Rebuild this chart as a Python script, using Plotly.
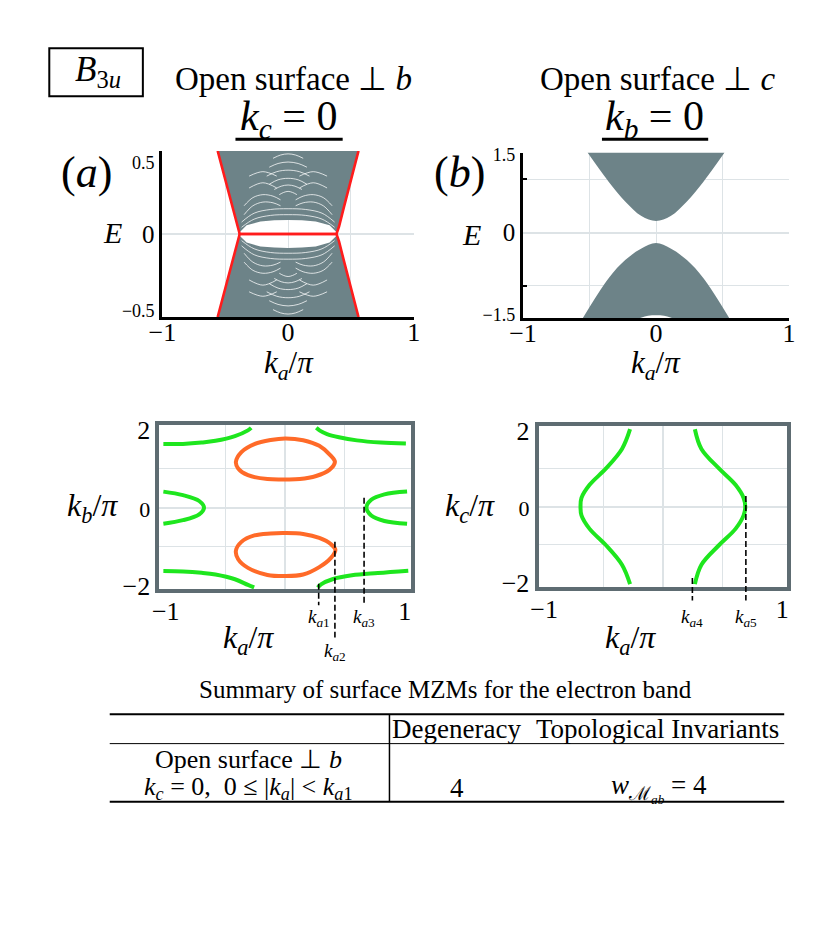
import plotly.graph_objects as go
from plotly.subplots import make_subplots

W, H = 830, 925
FONT = "Liberation Serif"
GRAY = "#6d8388"
RED = "#ff1c1c"
GREEN = "#1ee61e"
ORANGE = "#ff6a28"
FRAME = "#5e6c72"
GRID = "#dde3e6"

# ---------------- (a) open surface perp b, k_c = 0 ----------------
# outline of the bulk continuum, upper half (lower half is its mirror)
A_BULK_K = [-0.56, -0.495, -0.443, -0.405, -0.385, -0.33, -0.22, -0.11, 0.0,
            0.11, 0.22, 0.33, 0.385, 0.405, 0.443, 0.495, 0.56]
A_BULK_E = [0.56, 0.353, 0.178, 0.05, 0.012, 0.058, 0.084, 0.092, 0.094,
            0.092, 0.084, 0.058, 0.012, 0.05, 0.178, 0.353, 0.56]
# surface MZM branch (red)
A_EDGE_K = [-0.56, -0.495, -0.443, -0.405, -0.385, 0.385, 0.405, 0.443, 0.495, 0.56]
A_EDGE_E = [0.56, 0.353, 0.178, 0.05, 0.0, 0.0, 0.05, 0.178, 0.353, 0.56]
# gaps between the bulk subbands (white streaks), upper half
A_ARCH_K = [[-0.12, -0.06, 0, 0.06, 0.12], [-0.15, -0.08, 0, 0.08, 0.15],
            [-0.17, -0.09, 0, 0.09, 0.17], [-0.15, -0.08, 0, 0.08, 0.15],
            [-0.11, -0.055, 0, 0.055, 0.11], [-0.07, -0.035, 0, 0.035, 0.07]]
A_ARCH_E = [[0.51, 0.532, 0.54, 0.532, 0.51], [0.45, 0.475, 0.485, 0.475, 0.45],
            [0.39, 0.42, 0.43, 0.42, 0.39], [0.335, 0.365, 0.375, 0.365, 0.335],
            [0.30, 0.322, 0.33, 0.322, 0.30], [0.265, 0.28, 0.287, 0.28, 0.265]]
A_LONG_K = [-0.37, -0.27, -0.14, 0.0, 0.14, 0.27, 0.37]
A_LONG_E = [[0.045, 0.10, 0.125, 0.13, 0.125, 0.10, 0.045],
            [0.08, 0.14, 0.165, 0.17, 0.165, 0.14, 0.08]]
A_SIDE_K = [-0.35, -0.28, -0.2, -0.12, -0.06]
A_SIDE_E = [[0.13, 0.19, 0.215, 0.21, 0.19],
            [0.19, 0.245, 0.265, 0.255, 0.23]]
A_HUMP_K = [-0.31, -0.2, -0.09]
A_HUMP_E = [[0.31, 0.345, 0.31], [0.39, 0.42, 0.39]]

# ---------------- (b) open surface perp c, k_b = 0 ----------------
B_UP_K = [-0.515, -0.355, -0.232, -0.11, 0.0, 0.11, 0.232, 0.355, 0.515]
B_UP_E = [1.5, 0.95, 0.584, 0.31, 0.218, 0.31, 0.584, 0.95, 1.5]
B_LO_K = [-0.55, -0.355, -0.232, -0.11, 0.0, 0.11, 0.232, 0.355, 0.55]
B_LO_E = [-1.6, -0.85, -0.515, -0.30, -0.196, -0.30, -0.515, -0.85, -1.6]
B_NOTCH_K = [-0.12, -0.06, 0.0, 0.06, 0.12]
B_NOTCH_E = [-1.6, -1.56, -1.55, -1.56, -1.6]

# ---------------- (c) Fermi surface, k_a - k_b ----------------
C_ORANGE_UP_K = [-0.413, -0.367, -0.258, -0.122, 0.0, 0.15, 0.285, 0.381, 0.416,
                 0.367, 0.259, 0.122, 0.0, -0.149, -0.312, -0.394, -0.413]
C_ORANGE_UP_B = [1.17, 1.42, 1.625, 1.73, 1.77, 1.725, 1.58, 1.33, 1.17,
                 0.96, 0.81, 0.73, 0.72, 0.73, 0.83, 1.0, 1.17]
C_ORANGE_LO_K = [-0.413, -0.367, -0.258, -0.122, 0.0, 0.15, 0.285, 0.381, 0.42,
                 0.381, 0.285, 0.15, 0.0, -0.149, -0.312, -0.394, -0.413]
C_ORANGE_LO_B = [-1.10, -0.875, -0.71, -0.66, -0.65, -0.675, -0.775, -0.93, -1.08,
                 -1.29, -1.52, -1.71, -1.75, -1.72, -1.54, -1.32, -1.10]
C_GREEN_TL_K = [-1.02, -0.856, -0.70, -0.584, -0.421, -0.312, -0.285]
C_GREEN_TL_B = [1.625, 1.63, 1.665, 1.71, 1.83, 1.975, 2.04]
C_GREEN_TR_K = [0.26, 0.29, 0.35, 0.45, 0.6, 0.8, 1.01]
C_GREEN_TR_B = [2.04, 1.97, 1.88, 1.80, 1.72, 1.665, 1.64]
C_GREEN_ML_K = [-1.02, -0.856, -0.72, -0.68, -0.72, -0.856, -1.02]
C_GREEN_ML_B = [0.41, 0.32, 0.17, 0.0, -0.17, -0.32, -0.41]
C_GREEN_MR_K = [1.02, 0.83, 0.72, 0.68, 0.72, 0.83, 1.02]
C_GREEN_MR_B = [0.41, 0.34, 0.20, 0.0, -0.20, -0.34, -0.41]
C_GREEN_BL_K = [-1.02, -0.856, -0.70, -0.584, -0.421, -0.312, -0.26]
C_GREEN_BL_B = [-1.62, -1.63, -1.665, -1.71, -1.83, -1.975, -2.04]
C_GREEN_BR_K = [0.272, 0.30, 0.395, 0.558, 0.775, 1.03]
C_GREEN_BR_B = [-2.04, -1.96, -1.83, -1.73, -1.67, -1.61]
C_KA_MARKS = [0.28, 0.416, 0.66]
C_KA_LABELS = ["a1", "a2", "a3"]

# ---------------- (d) Fermi surface, k_a - k_c ----------------
D_GREEN_L_K = [-0.278, -0.346, -0.482, -0.618, -0.686, -0.694, -0.686, -0.618,
               -0.482, -0.346, -0.278]
D_GREEN_R_K = [0.266, 0.321, 0.47, 0.607, 0.675, 0.689, 0.675, 0.607, 0.47,
               0.321, 0.266]
D_GREEN_C = [2.04, 1.52, 1.0, 0.575, 0.23, 0.0, -0.23, -0.585, -1.01, -1.53, -2.04]
D_KA_MARKS = [0.245, 0.694]
D_KA_LABELS = ["a4", "a5"]

OFF = 8  # the page puts the plot 8 px in from the window corner


def X(px):
    return (px - OFF) / W


def Y(py):
    return 1 - (py - OFF) / H


def kk(sub):
    return "<i>k</i><sub><i>%s</i></sub>" % sub


def small(s, size):
    return '<span style="font-size:%dpx">%s</span>' % (size, s)


fig = make_subplots(rows=2, cols=2)

# --- (a)
fig.add_trace(go.Scatter(x=A_BULK_K, y=A_BULK_E, mode="lines", fill="toself",
                         fillcolor=GRAY, line_width=0), row=1, col=1)
fig.add_trace(go.Scatter(x=A_BULK_K, y=[-e for e in A_BULK_E], mode="lines",
                         fill="toself", fillcolor=GRAY, line_width=0), row=1, col=1)
streaks = list(zip(A_ARCH_K, A_ARCH_E))
streaks += [(A_LONG_K, e) for e in A_LONG_E]
for e in A_SIDE_E:
    streaks += [(A_SIDE_K, e), ([-k for k in A_SIDE_K], e)]
for e in A_HUMP_E:
    streaks += [(A_HUMP_K, e), ([-k for k in A_HUMP_K], e)]
for ks, es in streaks:
    for sgn in (1, -1):
        fig.add_trace(go.Scatter(x=ks, y=[sgn * e for e in es], mode="lines",
                                 line=dict(color="rgba(255,255,255,0.75)", width=1.0,
                                           shape="spline")),
                      row=1, col=1)
for sgn in (1, -1):
    fig.add_trace(go.Scatter(x=A_EDGE_K, y=[sgn * e for e in A_EDGE_E], mode="lines",
                             line=dict(color=RED, width=2.6)), row=1, col=1)

# --- (b)
for ks, es in ((B_UP_K, B_UP_E), (B_LO_K, B_LO_E)):
    fig.add_trace(go.Scatter(x=ks, y=es, mode="lines", fill="toself",
                             fillcolor=GRAY, line=dict(width=0, shape="spline")),
                  row=1, col=2)
fig.add_trace(go.Scatter(x=B_NOTCH_K, y=B_NOTCH_E, mode="lines", fill="toself",
                         fillcolor="white", line=dict(width=0, shape="spline")),
              row=1, col=2)

# --- (c)
for ks, bs in ((C_GREEN_TL_K, C_GREEN_TL_B), (C_GREEN_TR_K, C_GREEN_TR_B),
               (C_GREEN_ML_K, C_GREEN_ML_B), (C_GREEN_MR_K, C_GREEN_MR_B),
               (C_GREEN_BL_K, C_GREEN_BL_B), (C_GREEN_BR_K, C_GREEN_BR_B)):
    fig.add_trace(go.Scatter(x=ks, y=bs, mode="lines",
                             line=dict(color=GREEN, width=4, shape="spline")),
                  row=2, col=1)
for ks, bs in ((C_ORANGE_UP_K, C_ORANGE_UP_B), (C_ORANGE_LO_K, C_ORANGE_LO_B)):
    fig.add_trace(go.Scatter(x=ks, y=bs, mode="lines",
                             line=dict(color=ORANGE, width=4, shape="spline")),
                  row=2, col=1)

# --- (d)
for ks in (D_GREEN_L_K, D_GREEN_R_K):
    fig.add_trace(go.Scatter(x=ks, y=D_GREEN_C, mode="lines",
                             line=dict(color=GREEN, width=4, shape="spline")),
                  row=2, col=2)

# ---------------- axes ----------------
tick_big = dict(family=FONT, size=26, color="black")
band_x = dict(range=[-1, 1], tickvals=[-1, 0, 1], ticktext=["\u22121", "0", "1"],
              showgrid=False, zeroline=True, zerolinecolor=GRID, zerolinewidth=1,
              minor=dict(tickmode="array", tickvals=[-0.5, 0.5], showgrid=True,
                         gridcolor=GRID, gridwidth=1),
              showline=True, linecolor="black", linewidth=2.5, ticks="",
              tickfont=tick_big, ticklabelstandoff=-10)
fig.update_xaxes(domain=[X(152), X(410)], **band_x, row=1, col=1)
fig.update_xaxes(domain=[X(522), X(795)], **band_x, row=1, col=2)
fig.update_yaxes(domain=[Y(315), Y(145)], range=[-0.56, 0.56],
                 tickvals=[-0.5, 0, 0.5],
                 ticktext=[small("\u22120.5", 18), "0", small("0.5", 18)],
                 showgrid=False, zeroline=True, zerolinecolor=GRID,
                 showline=True, linecolor="black", linewidth=2.5, ticks="",
                 tickfont=dict(family=FONT, size=25, color="black"), row=1, col=1)
fig.update_yaxes(domain=[Y(316), Y(146.7)], range=[-1.6, 1.5],
                 tickvals=[-1.5, 0, 1.5],
                 ticktext=[small("\u22121.5", 18), "0", small("1.5", 18)],
                 showgrid=False, zeroline=True, zerolinecolor=GRID,
                 minor=dict(tickmode="array", tickvals=[-1, 1], showgrid=True,
                            gridcolor=GRID, ticks="inside", ticklen=4,
                            tickcolor="black", tickwidth=1.5),
                 showline=True, linecolor="black", linewidth=2.5, ticks="",
                 tickfont=dict(family=FONT, size=25, color="black"), row=1, col=2)

fs_x = dict(tickvals=[-1, 1], ticktext=["\u22121", "1"], showgrid=False,
            zeroline=True, zerolinecolor=GRID,
            minor=dict(tickmode="array", tickvals=[-0.5, 0.5], showgrid=True,
                       gridcolor=GRID),
            showline=True, mirror=True, linecolor=FRAME, linewidth=4, ticks="",
            tickfont=tick_big, ticklabelstandoff=-4)
fs_y = dict(tickvals=[-2, 0, 2], ticktext=["\u22122", small("0", 22), "2"],
            showgrid=False, zeroline=True, zerolinecolor=GRID,
            minor=dict(tickmode="array", tickvals=[-1, 1], showgrid=True,
                       gridcolor=GRID),
            showline=True, mirror=True, linecolor=FRAME, linewidth=4, ticks="",
            tickfont=tick_big)
fig.update_xaxes(domain=[X(149), X(407)], range=[-1.053, 1.052], **fs_x, row=2, col=1)
fig.update_yaxes(domain=[Y(593.3), Y(425)], range=[-2.08, 2.125], **fs_y,
                 row=2, col=1)
fig.update_xaxes(domain=[X(538), X(792.7)], range=[-1.046, 1.038], **fs_x,
                 row=2, col=2)
fig.update_yaxes(domain=[Y(591), Y(426.7)], range=[-2.11, 2.12], **fs_y,
                 row=2, col=2)

# ---------------- text ----------------
ann = []


def text(x, y, s, size):
    ann.append(dict(x=X(x), y=Y(y), xref="paper", yref="paper", text=s,
                    showarrow=False, xanchor="center", yanchor="middle",
                    font=dict(family=FONT, size=size, color="black")))


text(86, 64, "<i>B</i><sub>3<i>u</i></sub>", 35)
text(287, 71, "Open surface \u22a5 <i>b</i>", 33)
text(660, 71, "Open surface \u22a5 <i>c</i>", 33)
text(281, 112, kk("c") + " = 0", 42)
text(657, 112, kk("b") + " = 0", 42)
text(74, 167, "(<i>a</i>)", 44)
text(457, 167, "(<i>b</i>)", 44)
text(101, 229, "<i>E</i>", 30)
text(469, 231, "<i>E</i>", 30)
text(282, 364, kk("a") + "/<i>\u03c0</i>", 31)
text(658, 364, kk("a") + "/<i>\u03c0</i>", 31)
text(240, 645, kk("a") + "/<i>\u03c0</i>", 32)
text(632, 645, kk("a") + "/<i>\u03c0</i>", 32)
text(80, 510, kk("b") + "/<i>\u03c0</i>", 32)
text(468, 510, kk("c") + "/<i>\u03c0</i>", 32)

shapes = []


def hline(x0, x1, y, w):
    shapes.append(dict(type="line", xref="paper", yref="paper", x0=X(x0), x1=X(x1),
                       y0=Y(y), y1=Y(y), line=dict(color="black", width=w)))


# B3u box and underlines of the cut labels
shapes.append(dict(type="rect", xref="paper", yref="paper", x0=X(36), x1=X(132),
                   y0=Y(89), y1=Y(40), line=dict(color="black", width=2)))
hline(227, 337, 133, 3)
hline(603, 712, 133, 3)

# k_a markers below the Fermi-surface panels
label_y = {"a1": 623, "a2": 658, "a3": 623, "a4": 623, "a5": 623}
line_span = {"a1": (588, 610), "a2": (545, 643), "a3": (500, 610),
             "a4": (582, 605), "a5": (498, 605)}
for xref, marks, labels in (("x3", C_KA_MARKS, C_KA_LABELS),
                            ("x4", D_KA_MARKS, D_KA_LABELS)):
    for k, lab in zip(marks, labels):
        top, bot = line_span[lab]
        shapes.append(dict(type="line", xref=xref, yref="paper", x0=k, x1=k,
                           y0=Y(top), y1=Y(bot),
                           line=dict(color="black", width=1.6, dash="6px,3px")))
        ann.append(dict(x=k, y=Y(label_y[lab]), xref=xref, yref="paper",
                        text="<i>k</i><sub><i>a</i>%s</sub>" % lab[1:], showarrow=False,
                        xanchor="center", yanchor="middle",
                        font=dict(family=FONT, size=19, color="black")))

# summary table
text(443, 696, "Summary of surface MZMs for the electron band", 25)
hline(98, 790, 721.5, 2)
hline(98, 790, 751.5, 1)
hline(98, 790, 811, 2)
shapes.append(dict(type="line", xref="paper", yref="paper", x0=X(385), x1=X(385),
                   y0=Y(721.5), y1=Y(811), line=dict(color="black", width=1.5)))
text(454, 737, "Degeneracy", 27)
text(660, 737, "Topological Invariants", 27)
text(240, 768, "Open surface \u22a5 <i>b</i>", 26)
text(240, 797, kk("c") + " = 0,  0 \u2264 |" + kk("a") + "| &lt; " +
     "<i>k</i><sub><i>a</i>1</sub>", 26)
text(454, 797, "4", 27)
text(662, 797, "<i>w</i><sub>\u2133<sub><i>ab</i></sub></sub> = 4", 27)

fig.update_layout(width=W, height=H, margin=dict(l=0, r=0, t=0, b=0),
                  paper_bgcolor="white", plot_bgcolor="white", showlegend=False,
                  font=dict(family=FONT, color="black"),
                  annotations=ann, shapes=shapes)
fig.write_html("out.html")
